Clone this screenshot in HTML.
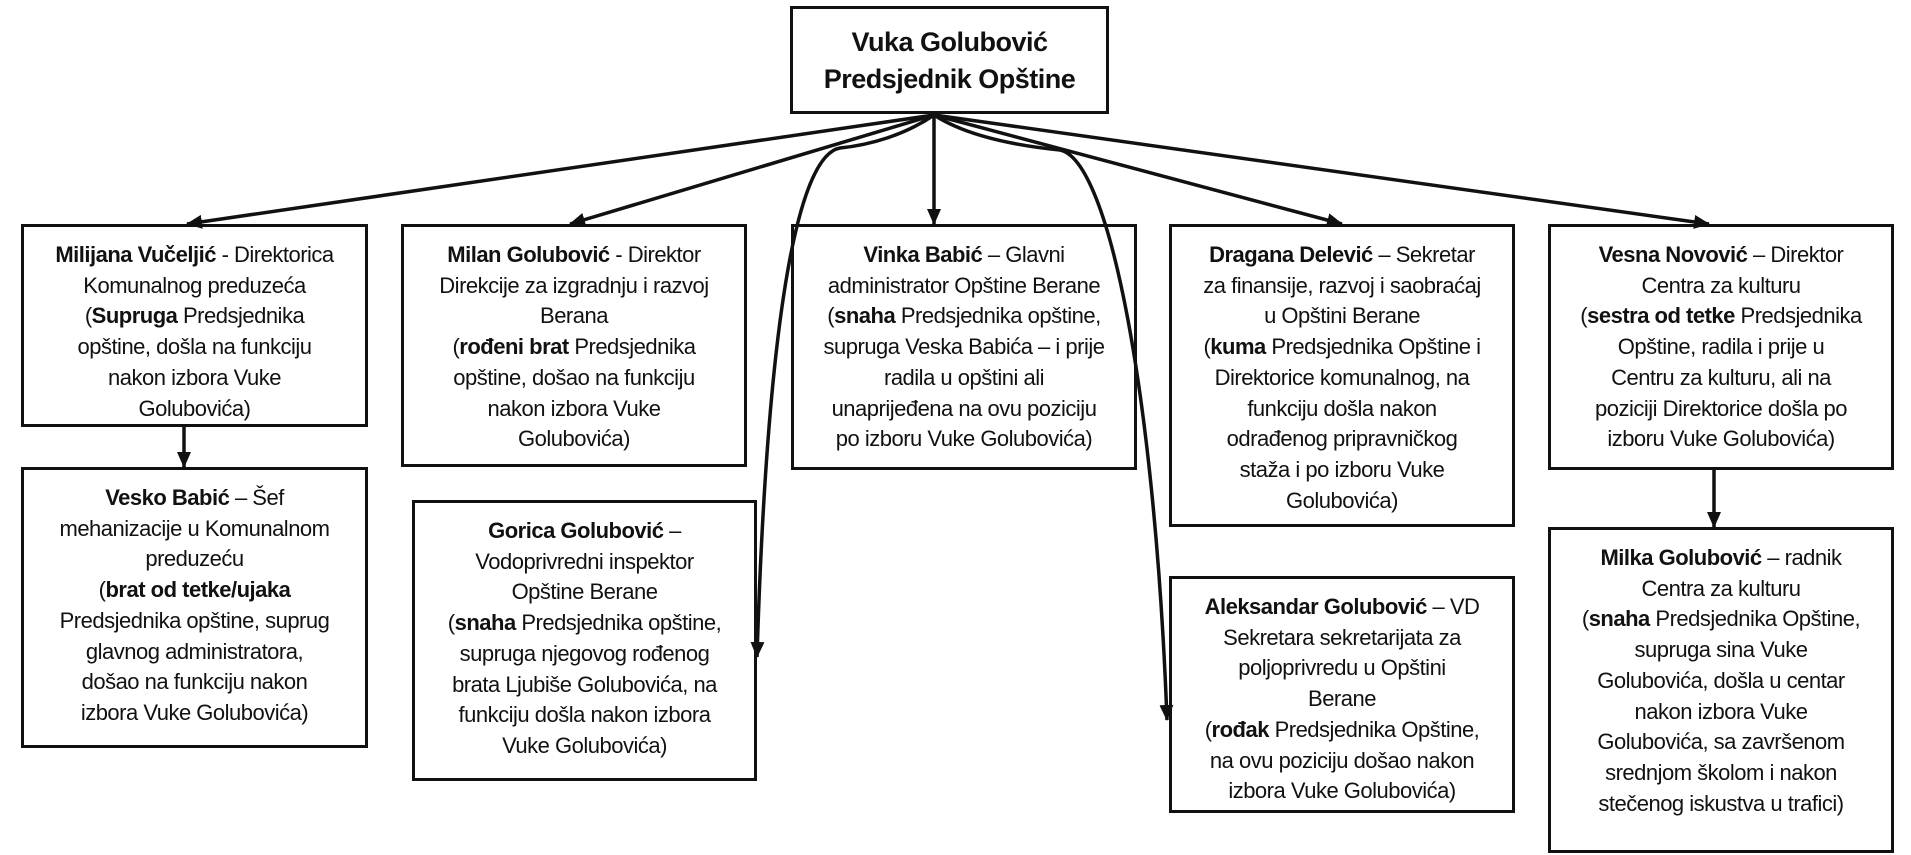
<!DOCTYPE html>
<html><head><meta charset="utf-8"><style>
body{margin:0;width:1911px;height:855px;background:#fff;position:relative;overflow:hidden;font-family:"Liberation Sans",sans-serif;color:#111}
.b{position:absolute;border:3px solid #111;box-sizing:border-box;text-align:center;font-size:22px;line-height:30.7px;padding-top:13px;white-space:nowrap;letter-spacing:-0.5px}
b{font-weight:bold}
svg{position:absolute;left:0;top:0}
</style></head><body>
<svg width="1911" height="855" viewBox="0 0 1911 855">
<defs><marker id="a" markerWidth="16" markerHeight="14" refX="15" refY="7" orient="auto" markerUnits="userSpaceOnUse"><path d="M0,0 L16,7 L0,14 z" fill="#111"/></marker></defs>
<g stroke="#111" stroke-width="3.5" fill="none" marker-end="url(#a)">
<path d="M934,115 L187,224"/>
<path d="M934,115 L570,224"/>
<path d="M934,115 L934,224"/>
<path d="M934,115 L1342,224"/>
<path d="M934,115 L1709,224"/>
<path d="M934,115 C905,135 870,145 840,148 C800,155 768,300 757,657"/>
<path d="M934,115 C965,135 1010,145 1060,150 C1110,160 1155,400 1167,720"/>
<path d="M184,427 L184,467"/>
<path d="M1714,470 L1714,527"/>
</g>
</svg>
<div class="b" style="left:790px;top:6px;width:319px;height:108px;font-size:27px;font-weight:bold;line-height:37px;padding-top:15px;letter-spacing:-0.5px">Vuka Golubović<br>Predsjednik Opštine</div>
<div class="b" style="left:21px;top:224px;width:347px;height:203px"><b>Milijana Vučeljić</b> - Direktorica<br>Komunalnog preduzeća<br>(<b>Supruga</b> Predsjednika<br>opštine, došla na funkciju<br>nakon izbora Vuke<br>Golubovića)</div>
<div class="b" style="left:21px;top:467px;width:347px;height:281px"><b>Vesko Babić</b> – Šef<br>mehanizacije u Komunalnom<br>preduzeću<br>(<b>brat od tetke/ujaka</b><br>Predsjednika opštine, suprug<br>glavnog administratora,<br>došao na funkciju nakon<br>izbora Vuke Golubovića)</div>
<div class="b" style="left:401px;top:224px;width:346px;height:243px"><b>Milan Golubović</b> - Direktor<br>Direkcije za izgradnju i razvoj<br>Berana<br>(<b>rođeni brat</b> Predsjednika<br>opštine, došao na funkciju<br>nakon izbora Vuke<br>Golubovića)</div>
<div class="b" style="left:412px;top:500px;width:345px;height:281px"><b>Gorica Golubović</b> –<br>Vodoprivredni inspektor<br>Opštine Berane<br>(<b>snaha</b> Predsjednika opštine,<br>supruga njegovog rođenog<br>brata Ljubiše Golubovića, na<br>funkciju došla nakon izbora<br>Vuke Golubovića)</div>
<div class="b" style="left:791px;top:224px;width:346px;height:246px"><b>Vinka Babić</b> – Glavni<br>administrator Opštine Berane<br>(<b>snaha</b> Predsjednika opštine,<br>supruga Veska Babića – i prije<br>radila u opštini ali<br>unaprijeđena na ovu poziciju<br>po izboru Vuke Golubovića)</div>
<div class="b" style="left:1169px;top:224px;width:346px;height:303px"><b>Dragana Delević</b> – Sekretar<br>za finansije, razvoj i saobraćaj<br>u Opštini Berane<br>(<b>kuma</b> Predsjednika Opštine i<br>Direktorice komunalnog, na<br>funkciju došla nakon<br>odrađenog pripravničkog<br>staža i po izboru Vuke<br>Golubovića)</div>
<div class="b" style="left:1169px;top:576px;width:346px;height:237px"><b>Aleksandar Golubović</b> – VD<br>Sekretara sekretarijata za<br>poljoprivredu u Opštini<br>Berane<br>(<b>rođak</b> Predsjednika Opštine,<br>na ovu poziciju došao nakon<br>izbora Vuke Golubovića)</div>
<div class="b" style="left:1548px;top:224px;width:346px;height:246px"><b>Vesna Novović</b> – Direktor<br>Centra za kulturu<br>(<b>sestra od tetke</b> Predsjednika<br>Opštine,  radila i prije u<br>Centru za kulturu, ali na<br>poziciji Direktorice došla po<br>izboru Vuke Golubovića)</div>
<div class="b" style="left:1548px;top:527px;width:346px;height:326px"><b>Milka Golubović</b> – radnik<br>Centra za kulturu<br>(<b>snaha</b> Predsjednika Opštine,<br>supruga sina Vuke<br>Golubovića, došla u centar<br>nakon izbora Vuke<br>Golubovića, sa završenom<br>srednjom školom i nakon<br>stečenog iskustva u trafici)</div>
</body></html>
